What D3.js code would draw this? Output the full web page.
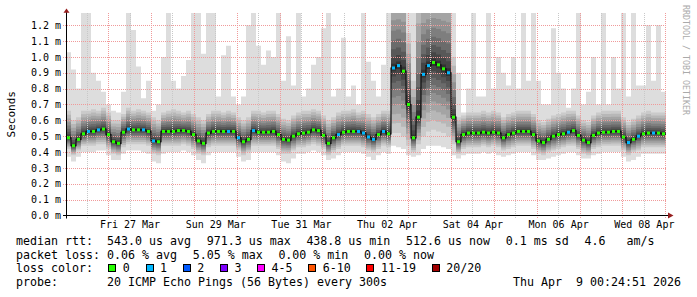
<!DOCTYPE html>
<html>
<head>
<meta charset="utf-8">
<script src="https://cdn.jsdelivr.net/npm/d3@7"></script>
<style>
  body { margin: 0; background: #fff; }
  svg { display: block; }
  text { font-family: "DejaVu Sans Mono", monospace; fill: #000; white-space: pre; }
</style>
</head>
<body>
<svg id="chart" width="697" height="297"></svg>
<script>
/* global d3 */

// 14 days, 120 consolidated points of 2.8 h, values in ms
const START = Date.UTC(2026, 2, 26, 0, 24, 51);
const END   = Date.UTC(2026, 3, 9, 0, 24, 51);

const median = [
  0.49, 0.44, 0.48, 0.515, 0.53, 0.53, 0.54, 0.545, 0.51, 0.465,
  0.455, 0.525, 0.545, 0.54, 0.54, 0.54, 0.53, 0.47, 0.465, 0.53,
  0.53, 0.53, 0.535, 0.535, 0.53, 0.51, 0.47, 0.455, 0.52, 0.53,
  0.53, 0.53, 0.53, 0.53, 0.49, 0.465, 0.48, 0.535, 0.525, 0.525,
  0.525, 0.53, 0.51, 0.48, 0.475, 0.50, 0.515, 0.52, 0.525, 0.54,
  0.535, 0.505, 0.455, 0.49, 0.51, 0.525, 0.53, 0.53, 0.53, 0.52,
  0.495, 0.48, 0.51, 0.53, 0.515, 0.93, 0.945, 0.91, 0.70, 0.49,
  0.62, 0.89, 0.945, 0.965, 0.95, 0.925, 0.90, 0.62, 0.465, 0.51,
  0.52, 0.52, 0.52, 0.525, 0.52, 0.525, 0.52, 0.49, 0.51, 0.52,
  0.53, 0.53, 0.53, 0.51, 0.47, 0.46, 0.48, 0.50, 0.51, 0.515,
  0.525, 0.535, 0.505, 0.475, 0.46, 0.505, 0.52, 0.525, 0.525, 0.53,
  0.53, 0.495, 0.46, 0.48, 0.50, 0.515, 0.52, 0.52, 0.52, 0.515,
];

// slowest ping of each point (values above 1.27 run off the top)
const pingMax = [
  1.03, 0.92, 0.80, 1.30, 1.30, 0.90, 0.85, 0.78, 0.70, 0.66,
  0.65, 0.78, 1.30, 1.17, 0.94, 0.74, 0.85, 0.66, 0.70, 1.00,
  1.30, 0.85, 0.80, 0.88, 0.98, 1.30, 1.30, 1.02, 1.30, 1.30,
  0.75, 1.01, 1.07, 0.75, 0.70, 0.75, 1.20, 1.30, 1.07, 0.95,
  1.04, 1.00, 1.30, 0.85, 1.13, 0.82, 1.30, 0.75, 0.80, 0.95,
  1.00, 1.18, 1.30, 0.75, 0.80, 1.12, 0.75, 0.82, 0.70, 1.30,
  0.97, 0.85, 0.75, 0.95, 1.30, 1.50, 1.50, 1.50, 1.30, 1.30,
  1.50, 1.50, 1.50, 1.50, 1.50, 1.50, 1.50, 1.30, 0.90, 0.65,
  0.80, 1.30, 0.75, 0.75, 1.30, 0.80, 1.00, 0.90, 0.82, 1.00,
  0.80, 1.30, 0.85, 1.30, 0.85, 0.70, 0.70, 1.18, 0.90, 0.80,
  0.68, 0.80, 1.30, 0.70, 0.78, 1.00, 0.70, 1.30, 0.70, 1.00,
  0.80, 1.30, 0.75, 1.30, 0.82, 0.82, 1.20, 0.85, 1.20, 0.78,
];

// upper edge of the inner smoke
const pingHi = [
  0.66, 0.60, 0.62, 0.66, 0.66, 0.67, 0.66, 0.68, 0.65, 0.60,
  0.60, 0.64, 0.68, 0.66, 0.67, 0.66, 0.65, 0.62, 0.60, 0.65,
  0.66, 0.67, 0.66, 0.65, 0.66, 0.64, 0.62, 0.60, 0.64, 0.66,
  0.66, 0.65, 0.66, 0.65, 0.62, 0.60, 0.62, 0.66, 0.66, 0.65,
  0.66, 0.66, 0.64, 0.61, 0.60, 0.63, 0.65, 0.66, 0.66, 0.67,
  0.66, 0.63, 0.60, 0.62, 0.65, 0.66, 0.66, 0.67, 0.65, 0.66,
  0.64, 0.62, 0.64, 0.66, 0.66, 1.45, 1.45, 1.45, 1.15, 0.85,
  1.45, 1.45, 1.45, 1.45, 1.45, 1.45, 1.45, 1.00, 0.62, 0.63,
  0.65, 0.65, 0.65, 0.66, 0.65, 0.66, 0.65, 0.62, 0.64, 0.65,
  0.66, 0.66, 0.66, 0.64, 0.60, 0.59, 0.61, 0.63, 0.64, 0.65,
  0.66, 0.66, 0.63, 0.60, 0.59, 0.63, 0.65, 0.66, 0.66, 0.66,
  0.66, 0.62, 0.59, 0.61, 0.63, 0.65, 0.66, 0.65, 0.65, 0.65,
];

// lower edge of the inner smoke
const pingLo = [
  0.42, 0.38, 0.41, 0.44, 0.44, 0.44, 0.45, 0.45, 0.42, 0.39,
  0.38, 0.43, 0.45, 0.45, 0.45, 0.45, 0.44, 0.39, 0.38, 0.44,
  0.44, 0.44, 0.44, 0.45, 0.44, 0.42, 0.39, 0.38, 0.43, 0.44,
  0.44, 0.44, 0.44, 0.44, 0.41, 0.38, 0.40, 0.44, 0.44, 0.44,
  0.44, 0.44, 0.42, 0.39, 0.39, 0.41, 0.43, 0.43, 0.44, 0.45,
  0.44, 0.42, 0.38, 0.40, 0.42, 0.44, 0.44, 0.44, 0.44, 0.43,
  0.41, 0.40, 0.42, 0.44, 0.43, 0.52, 0.52, 0.50, 0.44, 0.40,
  0.45, 0.50, 0.53, 0.54, 0.53, 0.52, 0.50, 0.45, 0.39, 0.42,
  0.43, 0.43, 0.43, 0.44, 0.43, 0.44, 0.43, 0.41, 0.42, 0.43,
  0.44, 0.44, 0.44, 0.42, 0.39, 0.38, 0.40, 0.41, 0.42, 0.43,
  0.44, 0.44, 0.42, 0.39, 0.38, 0.42, 0.43, 0.44, 0.44, 0.44,
  0.44, 0.41, 0.38, 0.40, 0.41, 0.43, 0.43, 0.43, 0.43, 0.43,
];

// fastest ping of each point
const pingMin = [
  0.37, 0.34, 0.37, 0.40, 0.40, 0.40, 0.41, 0.41, 0.38, 0.35,
  0.35, 0.39, 0.41, 0.41, 0.41, 0.40, 0.39, 0.34, 0.33, 0.39,
  0.40, 0.40, 0.40, 0.41, 0.40, 0.38, 0.35, 0.33, 0.38, 0.40,
  0.40, 0.40, 0.40, 0.40, 0.37, 0.34, 0.35, 0.40, 0.40, 0.40,
  0.40, 0.40, 0.38, 0.34, 0.33, 0.36, 0.39, 0.39, 0.40, 0.41,
  0.40, 0.38, 0.35, 0.36, 0.38, 0.40, 0.40, 0.40, 0.40, 0.39,
  0.37, 0.35, 0.38, 0.40, 0.39, 0.44, 0.43, 0.42, 0.38, 0.37,
  0.38, 0.42, 0.44, 0.44, 0.44, 0.43, 0.42, 0.38, 0.36, 0.38,
  0.39, 0.39, 0.39, 0.40, 0.39, 0.40, 0.38, 0.37, 0.38, 0.39,
  0.40, 0.40, 0.40, 0.38, 0.35, 0.35, 0.36, 0.37, 0.38, 0.39,
  0.40, 0.40, 0.38, 0.36, 0.36, 0.38, 0.39, 0.40, 0.40, 0.40,
  0.40, 0.37, 0.34, 0.35, 0.37, 0.39, 0.39, 0.39, 0.39, 0.39,
];

// lost pings (of 20) per point
const lost = [
  0, 0, 0, 0, 1, 0, 1, 0, 0, 0,
  0, 0, 1, 0, 0, 1, 0, 1, 0, 0,
  0, 0, 0, 0, 0, 0, 0, 0, 0, 0,
  0, 0, 1, 0, 1, 0, 0, 1, 0, 0,
  0, 0, 0, 0, 0, 0, 0, 0, 0, 0,
  0, 0, 0, 0, 1, 0, 0, 0, 1, 1,
  1, 1, 0, 1, 0, 1, 1, 0, 0, 0,
  0, 1, 1, 0, 0, 0, 1, 0, 0, 0,
  0, 0, 0, 0, 0, 0, 0, 0, 0, 0,
  0, 0, 0, 0, 0, 0, 0, 0, 0, 0,
  1, 0, 0, 0, 0, 0, 0, 0, 0, 0,
  0, 0, 1, 0, 1, 0, 0, 1, 0, 0,
];

const lossFrom   = [0, 1, 2, 3, 4, 6, 11, 20];
const lossLabels = ['0', '1', '2', '3', '4-5', '6-10', '11-19', '20/20'];
const lossColors = ['#26ff00', '#00b8ff', '#0059ff', '#7e00ff', '#ff00ff', '#ff5500', '#ff0000', '#a10000'];

const yTicks = [0, 0.1, 0.2, 0.3, 0.4, 0.5, 0.6, 0.7, 0.8, 0.9, 1.0, 1.1, 1.2];
const labelDays = ['2026-03-27', '2026-03-29', '2026-03-31', '2026-04-02', '2026-04-04', '2026-04-06', '2026-04-08'];

const rttLegend  = ['median rtt:  543.0 us avg', '971.3 us max', '438.8 us min', '512.6 us now', '0.1 ms sd', '4.6   am/s'];
const lossLegend = ['packet loss: 0.06 % avg', '5.05 % max', '0.00 % min', '0.00 % now'];
const probeText  = 'probe:       20 ICMP Echo Pings (56 Bytes) every 300s';
const stampText  = 'Thu Apr  9 00:24:51 2026';

//-------------------------------------------------

const X0 = 66, X1 = 666, YB = 215.5, YT = 13;
const LEGEND_FONT = 11.63;
const GAP = 15.7;
const N = median.length;
const STEP = (END - START) / N;

const svg = d3.select('#chart');

const x = d3.scaleUtc().domain([START, END]).range([X0, X1]);
const y = d3.scaleLinear().domain([0, 1.2]).range([YB, YB - 1.2 * 158.6]);

svg.append('defs').append('clipPath').attr('id', 'plot')
  .append('rect')
  .attr('x', X0).attr('y', YT)
  .attr('width', X1 - X0).attr('height', YB - YT);

const cells = d3.range(N + 1).map(i => ({t: START + i * STEP, k: Math.min(i, N - 1)}));
const plot = svg.append('g').attr('clip-path', 'url(#plot)');

const band = (lo, hi) => d3.area()
  .curve(d3.curveStepAfter)
  .x(d => x(d.t))
  .y0(d => y(lo(d.k)))
  .y1(d => y(hi(d.k)));

// smoke: outermost layer is min..max, the other nine close in on the median
plot.append('path')
  .attr('d', band(k => pingMin[k], k => pingMax[k])(cells))
  .attr('fill', '#dddddd');

for (let layer = 2; layer <= 10; layer++) {
  const f = Math.pow((11 - layer) / 9, 1.35);
  const grey = Math.round(190 / 10 * (10 - layer)) + 50;
  plot.append('path')
    .attr('d', band(
      k => median[k] - f * (median[k] - pingLo[k]),
      k => median[k] + f * (pingHi[k] - median[k]))(cells))
    .attr('fill', d3.rgb(grey, grey, grey));
}

// grid on top of the smoke
const grid = svg.append('g');
const dotted = sel => sel.attr('stroke-dasharray', '1,1').attr('shape-rendering', 'crispEdges');

grid.selectAll('.minor')
  .data(d3.utcHour.every(12).range(START, END).filter(d => d.getUTCHours() === 12))
  .join('line')
  .attr('x1', d => Math.round(x(d)) + 0.5).attr('x2', d => Math.round(x(d)) + 0.5)
  .attr('y1', YT).attr('y2', YB + 3)
  .attr('stroke', '#c8c8c8')
  .call(dotted);

grid.selectAll('.major')
  .data(d3.utcDay.range(START, END))
  .join('line')
  .attr('x1', d => Math.round(x(d)) + 0.5).attr('x2', d => Math.round(x(d)) + 0.5)
  .attr('y1', YT).attr('y2', YB + 3)
  .attr('stroke', '#f09a9a')
  .call(dotted);

grid.selectAll('.hgrid')
  .data(yTicks.filter(v => v > 0))
  .join('line')
  .attr('x1', X0 - 3).attr('x2', X1)
  .attr('y1', d => Math.round(y(d)) + 0.5).attr('y2', d => Math.round(y(d)) + 0.5)
  .attr('stroke', '#f09a9a')
  .call(dotted);

// median with loss colour marks
const mid = svg.append('g').attr('clip-path', 'url(#plot)');
mid.append('path')
  .attr('d', d3.line().curve(d3.curveStepAfter).x(d => x(d.t)).y(d => y(median[d.k]))(cells))
  .attr('fill', 'none')
  .attr('stroke', '#101010')
  .attr('stroke-width', 1.2);

const lossColor = n => lossColors[d3.bisectRight(lossFrom, n) - 1];
mid.selectAll('rect')
  .data(d3.range(N))
  .join('rect')
  .attr('x', i => x(START + (i + 0.5) * STEP) - 1.5)
  .attr('y', i => y(median[i]) - 1.5)
  .attr('width', 3)
  .attr('height', 3)
  .attr('fill', i => lossColor(lost[i]));

// axes
const yAxis = svg.append('g')
  .attr('transform', `translate(${X0},0)`)
  .call(d3.axisLeft(y).tickValues(yTicks).tickSize(0).tickPadding(5)
    .tickFormat(v => `${d3.format('.1f')(v)} m`));
yAxis.select('.domain').remove();
yAxis.selectAll('text').attr('font-family', '"DejaVu Sans Mono", monospace').attr('font-size', 10).attr('fill', '#000');

const xAxis = svg.append('g')
  .attr('transform', `translate(0,${YB})`)
  .call(d3.axisBottom(x)
    .tickValues(labelDays.map(s => new Date(`${s}T12:00:00Z`)))
    .tickSize(0).tickPadding(5.5)
    .tickFormat(d3.utcFormat('%a %d %b')));
xAxis.select('.domain').remove();
xAxis.selectAll('text').attr('font-family', '"DejaVu Sans Mono", monospace').attr('font-size', 10).attr('fill', '#000');

svg.append('line')
  .attr('x1', X0 + 0.5).attr('x2', X0 + 0.5).attr('y1', YB + 3).attr('y2', 11)
  .attr('stroke', '#000');
svg.append('line')
  .attr('x1', X0 - 3).attr('x2', 670).attr('y1', YB).attr('y2', YB)
  .attr('stroke', '#000');
svg.append('path').attr('d', `M${X0 - 2.5},12.7L${X0 + 3.5},12.7L${X0 + 0.5},8.5Z`).attr('fill', '#961e1e');
svg.append('path').attr('d', `M668,212.5L668,218.5L673.5,215.5Z`).attr('fill', '#961e1e');

svg.append('text')
  .attr('transform', `translate(15,${(YT + YB) / 2}) rotate(-90)`)
  .attr('text-anchor', 'middle')
  .attr('font-size', 11)
  .text('Seconds');

svg.append('text')
  .attr('transform', 'translate(683,5) rotate(90)')
  .attr('font-size', 8.3)
  .style('fill', '#aaaaaa')
  .text('RRDTOOL / TOBI OETIKER');

//-------------------------------------------------
// legend

const legendRow = function (pieces, baseline) {
  let px = 16;
  pieces.forEach((piece) => {
    const t = svg.append('text')
      .attr('x', px).attr('y', baseline)
      .attr('font-size', LEGEND_FONT)
      .attr('xml:space', 'preserve')
      .text(piece);
    px += t.node().getComputedTextLength() + GAP;
  });
};

legendRow(rttLegend, 245);
legendRow(lossLegend, 258.7);

svg.append('text')
  .attr('x', 16).attr('y', 272.4)
  .attr('font-size', LEGEND_FONT)
  .text('loss color:');
let bx = 108.3;
lossLabels.forEach((label, i) => {
  svg.append('rect')
    .attr('x', Math.round(bx) + 0.5).attr('y', 264.5)
    .attr('width', 7).attr('height', 7)
    .attr('fill', lossColors[i])
    .attr('stroke', '#000');
  const t = svg.append('text')
    .attr('x', bx + 14.5).attr('y', 272.4)
    .attr('font-size', LEGEND_FONT)
    .text(label);
  bx += 14.5 + t.node().getComputedTextLength() + GAP;
});

svg.append('text')
  .attr('x', 16).attr('y', 286)
  .attr('font-size', LEGEND_FONT)
  .attr('xml:space', 'preserve')
  .text(probeText);
svg.append('text')
  .attr('x', 681).attr('y', 286)
  .attr('text-anchor', 'end')
  .attr('font-size', LEGEND_FONT)
  .attr('xml:space', 'preserve')
  .text(stampText);
</script>
</body>
</html>
